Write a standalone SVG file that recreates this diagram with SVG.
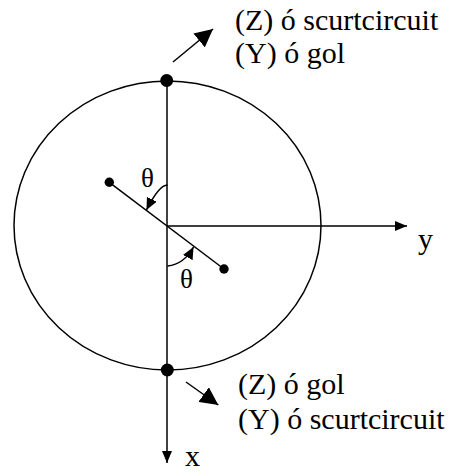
<svg xmlns="http://www.w3.org/2000/svg" width="449" height="472" viewBox="0 0 449 472">
<style>
  .ln { fill: none; stroke: #000; stroke-width: 1.5; }
  .dot { fill: #000; }
  .t { font-family: "Liberation Serif", "Times New Roman", serif; font-size: 30px; fill: #000; }
  .th { font-family: "Liberation Serif", "Times New Roman", serif; font-size: 27px; fill: #000; }
</style>
<defs>
  <marker id="big" viewBox="0 -9 18 18" refX="18" refY="0" markerWidth="18" markerHeight="18" markerUnits="userSpaceOnUse" orient="auto">
    <path d="M0,-9 L18,0 L0,9 z" fill="#000"/>
  </marker>
  <marker id="axis" viewBox="0 -5 12 10" refX="12" refY="0" markerWidth="12" markerHeight="10" markerUnits="userSpaceOnUse" orient="auto">
    <path d="M0,-5 L12,0 L0,5 z" fill="#000"/>
  </marker>
  <marker id="small" viewBox="0 -5.5 12 11" refX="12" refY="0" markerWidth="12" markerHeight="11" markerUnits="userSpaceOnUse" orient="auto">
    <path d="M0,-5.5 L12,0 L0,5.5 z" fill="#000"/>
  </marker>
</defs>
<g id="circle">
  <ellipse cx="167.5" cy="225.5" rx="153.5" ry="144.5" class="ln"/>
</g>
<g id="connectors">
  <line x1="167" y1="80" x2="167" y2="463" class="ln" marker-end="url(#axis)"/>
  <line x1="167" y1="226" x2="407" y2="226" class="ln" marker-end="url(#axis)"/>
  <line x1="109.3" y1="182.3" x2="224" y2="269" class="ln"/>
  <line x1="173" y1="62" x2="213" y2="29" class="ln" marker-end="url(#big)"/>
  <line x1="186" y1="382" x2="218.3" y2="405" class="ln" marker-end="url(#big)"/>
  <path d="M167.5,185 C160,185 152,199 146.5,210" class="ln" marker-end="url(#small)"/>
  <path d="M167.5,266 C177,265 187,259 193.5,247" class="ln" marker-end="url(#small)"/>
</g>
<g id="top-point">
  <circle cx="166.7" cy="80.5" r="6.5" class="dot"/>
</g>
<g id="bottom-point">
  <circle cx="167.3" cy="370" r="6.5" class="dot"/>
</g>
<g id="dipole">
  <circle cx="109.3" cy="182.3" r="4.7" class="dot"/>
  <circle cx="224" cy="269" r="4.7" class="dot"/>
</g>
<g id="labels">
  <text class="t" x="235" y="30">(Z) ó scurtcircuit</text>
  <text class="t" x="235" y="63">(Y) ó gol</text>
  <text class="t" x="238" y="394">(Z) ó gol</text>
  <text class="t" x="238" y="429">(Y) ó scurtcircuit</text>
  <text class="t" x="418" y="249">y</text>
  <text class="t" x="185" y="466">x</text>
  <text class="th" x="141" y="187">θ</text>
  <text class="th" x="180" y="288">θ</text>
</g>
</svg>
